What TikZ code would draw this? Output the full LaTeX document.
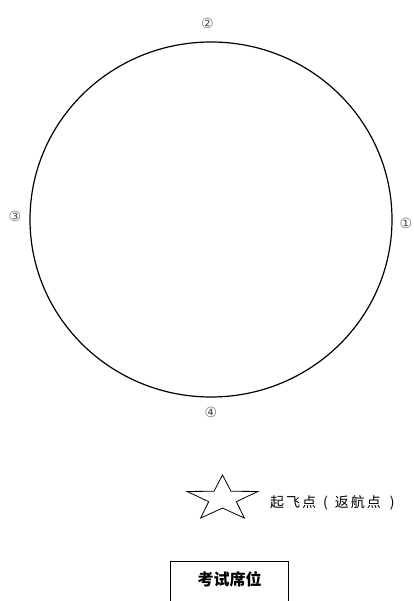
\documentclass[tikz,border=0pt]{standalone}
\usepackage{fontspec}
\usetikzlibrary{shapes.geometric}
\newfontfamily\cjk{Noto Sans CJK SC}
\newfontfamily\dejavu{DejaVu Sans}
\tikzset{
  numlbl/.style={font=\dejavu\fontsize{14}{14}\selectfont, text=black!65, inner sep=0pt},
  ring/.style={draw=black, line width=1.2pt},
  seatbox/.style={draw=black, line width=1pt},
  starline/.style={draw=black, line width=0.8pt, line join=miter},
}
\begin{document}
\begin{tikzpicture}[x=1pt,y=-1pt]
\useasboundingbox (0,0) rectangle (414,601);
% main ring
\node[ring, ellipse, minimum width=362, minimum height=355, inner sep=0pt] (ring) at (211,219.5) {};
% position labels
\node[numlbl] (p2) at (207.5,23) {②};
\node[numlbl] (p3) at (15,216) {③};
\node[numlbl] (p1) at (406,223.5) {①};
\node[numlbl] (p4) at (211,412) {④};
% take-off star
\coordinate (sc) at (222.5,498.8);
\draw[starline] plot[samples at={0,...,9}, variable=\k]
  ({222.5 + (mod(\k,2)==0 ? 37.3 : 14.5)*cos(90+36*\k)},
   {498.8 - (mod(\k,2)==0 ? 23.8 : 9.3)*sin(90+36*\k)}) -- cycle;
\node[font=\cjk\fontsize{14}{14}\selectfont, anchor=west, inner sep=0pt] (takeoff) at (270,503)
  {起\hspace{2pt}飞\hspace{2pt}点\hspace{7pt}(\hspace{7pt}返\hspace{2pt}航\hspace{2pt}点\hspace{9pt})};
% exam seat box
\draw[seatbox] (170,602) -- (170,561) -- (288,561) -- (288,602);
\node[font=\cjk\bfseries\fontsize{16}{16}\selectfont, inner sep=0pt] (seat) at (229.5,579) {考试席位};
\end{tikzpicture}
\end{document}
